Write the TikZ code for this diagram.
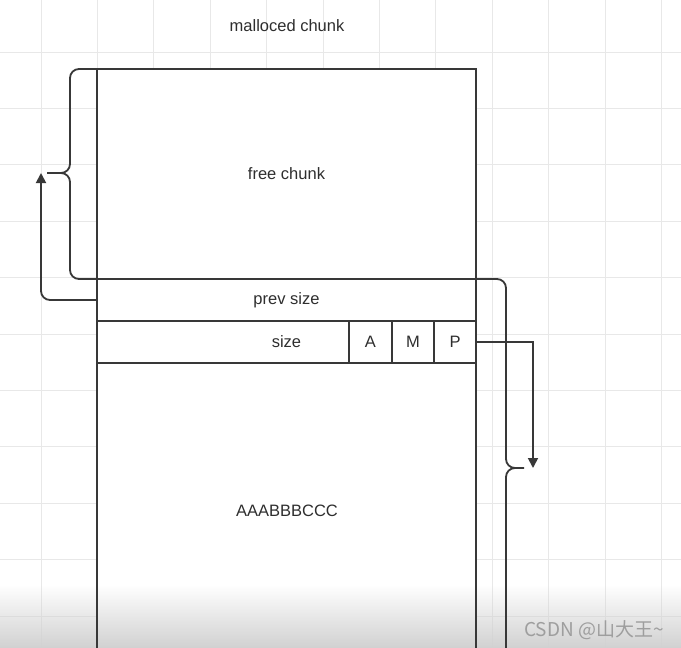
\documentclass[tikz,border=0pt]{standalone}
\usepackage{fontspec}
\setmainfont{Liberation Sans}
\newfontfamily\cjkfont{Noto Sans CJK SC}
\usetikzlibrary{arrows.meta,fadings}
\definecolor{ln}{HTML}{383838}
\definecolor{tx}{HTML}{2E2E2E}
\definecolor{gridc}{HTML}{E8E8E8}
\begin{document}
\begin{tikzpicture}[x=1pt,y=-1pt,
  every node/.style={text=tx, font=\fontsize{16.5}{18}\selectfont, inner sep=0pt, outer sep=0pt},
  cell/.style={draw=ln, line width=1.8pt, minimum height=42pt},
  lnk/.style={draw=ln, line width=1.8pt},
  arr/.style={lnk, -{Triangle[width=10pt,length=10pt]}}]
\useasboundingbox (0,0) rectangle (681,648);
\clip (0,0) rectangle (681,648);
\fill[white] (0,0) rectangle (681,648);
% grid
\foreach \i in {0,...,11} {\draw[gridc, line width=1pt] ({41+56.4*\i},0) -- ({41+56.4*\i},648);}
\foreach \j in {0,...,10} {\draw[gridc, line width=1pt] (0,{52+56.4*\j}) -- (681,{52+56.4*\j});}
% white body
\fill[white] (97,69) rectangle (476,660);
% bottom shading of the video frame
\fill[black!18, path fading=north] (0,585) rectangle (681,648);
% title
\node (title) at (287,26) {malloced chunk};
% boxes
\node[cell, minimum width=379pt, minimum height=210pt] (free) at (286.5,174) {free chunk};
\node[cell, minimum width=379pt] (prev) at (286.5,300) {prev size};
\node[cell, minimum width=379pt] (size) at (286.5,342) {size};
\node[cell, minimum width=43pt] (A) at (370.5,342) {A};
\node[cell, minimum width=42pt] (M) at (413,342) {M};
\node[cell, minimum width=42pt] (P) at (455,342) {P};
\node[cell, minimum width=379pt, minimum height=297pt] (data) at (286.5,511.5) {};
\node (datatext) at (287,511) {AAABBBCCC};
% braces
\draw[lnk, rounded corners=9] (free.north west) -- (70,69) -- (70,173) -- (47,173);
\draw[lnk, rounded corners=9] (60,173) -- (70,173) -- (70,279) -- (506,279) -- (506,468) -- (524,468);
\draw[lnk, rounded corners=9] (516,468) -- (506,468) -- (506,660);
% arrows
\coordinate (la) at (41,173);
\coordinate (ra) at (533,468);
\draw[arr, rounded corners=9] (prev.west) -| (la);
\draw[arr] (P.east) -| (ra);
% watermark
\node[text=black!38, font=\cjkfont\fontsize{19}{19}\selectfont] (wm) at (594,630) {CSDN @山大王\textasciitilde};
\end{tikzpicture}
\end{document}
